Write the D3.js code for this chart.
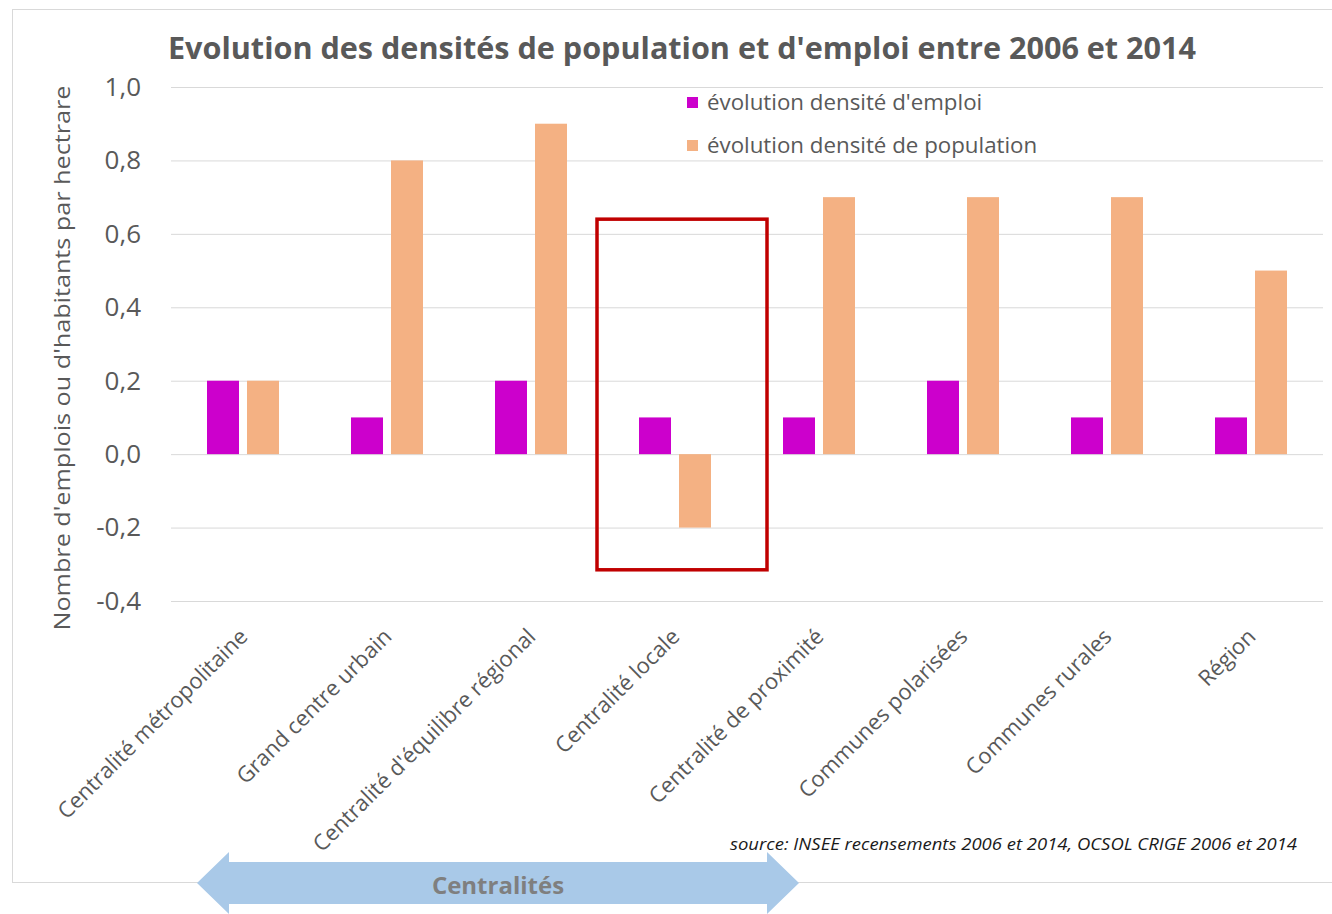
<!DOCTYPE html>
<html>
<head>
<meta charset="utf-8">
<script src="https://cdn.jsdelivr.net/npm/d3@7"></script>
<style>
  html, body { margin: 0; padding: 0; background: #fff; }
  svg { display: block; }
</style>
</head>
<body>
<div id="chart"></div>
<script>
// data
const categories = [
  "Centralité métropolitaine",
  "Grand centre urbain",
  "Centralité d'équilibre régional",
  "Centralité locale",
  "Centralité de proximité",
  "Communes polarisées",
  "Communes rurales",
  "Région"
];
const seriesNames = ["évolution densité d'emploi", "évolution densité de population"];
const emploi = [0.2, 0.1, 0.2, 0.1, 0.1, 0.2, 0.1, 0.1];
const population = [0.2, 0.8, 0.9, -0.2, 0.7, 0.7, 0.7, 0.5];
const yTicks = [-0.4, -0.2, 0.0, 0.2, 0.4, 0.6, 0.8, 1.0];
const highlighted = "Centralité locale";

const width = 1332, height = 914;
const margin = { left: 171, right: 9, top: 87, bottom: 313 };
const colors = { emploi: "#CC00CC", population: "#F4B183" };
const textGray = "#595959";

const svg = d3.select("#chart").append("svg")
  .attr("width", width)
  .attr("height", height);

// outer frame
svg.append("rect")
  .attr("x", 12.5).attr("y", 9.5)
  .attr("width", 1330).attr("height", 873)
  .attr("fill", "#fff")
  .attr("stroke", "#D9D9D9");

//#region scales
const x = d3.scaleBand()
  .domain(categories)
  .range([margin.left, width - margin.right]);
const xInner = d3.scaleBand()
  .domain(["emploi", "population"])
  .range([36, 108])
  .paddingInner(0.2);
const y = d3.scaleLinear()
  .domain([-0.4, 1.0])
  .range([height - margin.bottom, margin.top]);
//#endregion

// gridlines + tick labels
const yAxis = d3.axisLeft(y)
  .tickValues(yTicks)
  .tickSize(-(x.range()[1] - x.range()[0]))
  .tickPadding(30)
  .tickFormat(d => d3.format(".1f")(d).replace(".", ",").replace("−", "-"));

const gy = svg.append("g")
  .attr("transform", `translate(${margin.left},0)`)
  .call(yAxis);
gy.select(".domain").remove();
gy.selectAll(".tick line").attr("stroke", "#D9D9D9").attr("stroke-width", 1);
gy.selectAll(".tick text")
  .attr("fill", textGray)
  .style("font-family", "'Open Sans', sans-serif")
  .style("font-size", "26px");

// bars
const rows = categories.map((c, i) => ({ cat: c, emploi: emploi[i], population: population[i] }));
const groups = svg.append("g").selectAll("g")
  .data(rows)
  .join("g")
  .attr("transform", d => `translate(${x(d.cat)},0)`);

groups.selectAll("rect")
  .data(d => ["emploi", "population"].map(k => ({ key: k, value: d[k] })))
  .join("rect")
  .attr("x", d => xInner(d.key))
  .attr("width", xInner.bandwidth())
  .attr("y", d => y(Math.max(0, d.value)))
  .attr("height", d => Math.abs(y(d.value) - y(0)))
  .attr("fill", d => colors[d.key]);

// x labels, rotated
svg.append("g").selectAll("text")
  .data(categories)
  .join("text")
  .attr("transform", d => `translate(${x(d) + x.bandwidth() / 2 + 6},${y(-0.4) + 37}) rotate(-45)`)
  .attr("text-anchor", "end")
  .attr("fill", textGray)
  .style("font-family", "'Open Sans', sans-serif")
  .style("font-size", "22px")
  .text(d => d);

// y axis title
svg.append("text")
  .attr("transform", `translate(70,${(y(1.0) + y(-0.4)) / 2 + 14}) rotate(-90)`)
  .attr("text-anchor", "middle")
  .attr("fill", textGray)
  .attr("textLength", 545)
  .attr("lengthAdjust", "spacingAndGlyphs")
  .style("font-family", "'Open Sans', sans-serif")
  .style("font-size", "22px")
  .text("Nombre d'emplois ou d'habitants par hectrare");

// title
svg.append("text")
  .attr("x", 682).attr("y", 59)
  .attr("text-anchor", "middle")
  .attr("fill", textGray)
  .attr("textLength", 1028)
  .attr("lengthAdjust", "spacingAndGlyphs")
  .style("font-family", "'Open Sans', sans-serif")
  .style("font-weight", "bold")
  .style("font-size", "30px")
  .text("Evolution des densités de population et d'emploi entre 2006 et 2014");

// legend
const legend = svg.append("g").attr("transform", "translate(687,92)");
const legendItems = legend.selectAll("g")
  .data(seriesNames)
  .join("g")
  .attr("transform", (d, i) => `translate(0,${i * 43})`);
legendItems.append("rect")
  .attr("y", 5).attr("width", 11).attr("height", 11)
  .attr("fill", (d, i) => i === 0 ? colors.emploi : colors.population);
legendItems.append("text")
  .attr("x", 20).attr("y", 18)
  .attr("fill", textGray)
  .style("font-family", "'Open Sans', sans-serif")
  .style("font-size", "22.3px")
  .text(d => d);

// highlight box around "Centralité locale"
svg.append("rect")
  .attr("x", x(highlighted) - 6)
  .attr("y", y(0.64))
  .attr("width", x.bandwidth() + 26)
  .attr("height", y(-0.315) - y(0.64))
  .attr("fill", "none")
  .attr("stroke", "#C00000")
  .attr("stroke-width", 3.5);

// source
svg.append("text")
  .attr("x", 730).attr("y", 850)
  .attr("fill", "#1a1a1a")
  .attr("textLength", 567)
  .attr("lengthAdjust", "spacingAndGlyphs")
  .style("font-family", "'Open Sans', sans-serif")
  .style("font-style", "italic")
  .style("font-size", "16px")
  .text("source: INSEE recensements 2006 et 2014, OCSOL CRIGE 2006 et 2014");

// double arrow "Centralités"
const ax0 = 197, ax1 = 799, acy = 883, headW = 32, shaftH = 21, headH = 31;
const arrowPts = [
  [ax0, acy], [ax0 + headW, acy - headH], [ax0 + headW, acy - shaftH],
  [ax1 - headW, acy - shaftH], [ax1 - headW, acy - headH], [ax1, acy],
  [ax1 - headW, acy + headH], [ax1 - headW, acy + shaftH],
  [ax0 + headW, acy + shaftH], [ax0 + headW, acy + headH]
];
svg.append("path")
  .attr("d", d3.line()(arrowPts) + "Z")
  .attr("fill", "#A9C9E8");

svg.append("text")
  .attr("x", 498).attr("y", 894)
  .attr("text-anchor", "middle")
  .attr("fill", "#7F7F7F")
  .style("font-family", "'Open Sans', sans-serif")
  .style("font-weight", "bold")
  .style("font-size", "24px")
  .text("Centralités");
</script>
</body>
</html>
